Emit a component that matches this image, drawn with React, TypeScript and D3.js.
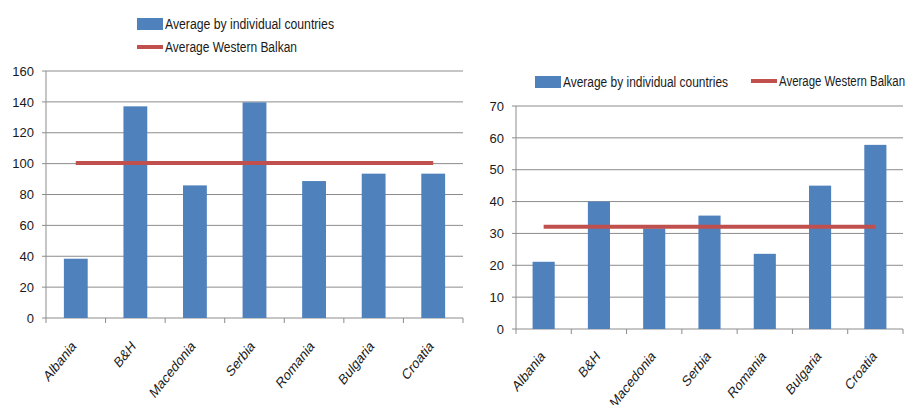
import React from "react";
import * as d3 from "d3";

// Countries on the category axis
const countries = ["Albania", "B&H", "Macedonia", "Serbia", "Romania", "Bulgaria", "Croatia"];

// Left panel: averages by country and the regional average
const leftValues = [38.4, 137.1, 85.9, 139.7, 88.7, 93.5, 93.5];
const leftAverage = 100.4;
const leftTicks = [0, 20, 40, 60, 80, 100, 120, 140, 160];

// Right panel: averages by country and the regional average
const rightValues = [21.1, 40.0, 31.6, 35.6, 23.6, 45.0, 57.8];
const rightAverage = 32.1;
const rightTicks = [0, 10, 20, 30, 40, 50, 60, 70];

const seriesBar = "Average by individual countries";
const seriesLine = "Average Western Balkan";

const BAR = "#4F81BD";
const LINE = "#C0504D";
const GRID = "#8C8C8C";
const TEXT = "#1a1a1a";
const FONT = "'Liberation Sans', Arial, sans-serif";

type PanelProps = {
  values: number[];
  average: number;
  ticks: number[];
  x0: number;
  x1: number;
  yTop: number;
  yBottom: number;
  labelDx: number;
  labelGap: number;
};

function Panel({ values, average, ticks, x0, x1, yTop, yBottom, labelDx, labelGap }: PanelProps) {
  const x = d3.scaleBand<string>().domain(countries).range([x0, x1]).padding(0);
  const y = d3
    .scaleLinear()
    .domain([0, ticks[ticks.length - 1]])
    .range([yBottom, yTop]);
  const step = x.step();
  const barW = step * 0.4;
  const first = x(countries[0])! + step / 2;
  const last = x(countries[countries.length - 1])! + step / 2;
  const linePath = d3.line<number>()([
    [first, y(average)],
    [last, y(average)],
  ] as any);
  const boundaries = d3.range(countries.length + 1).map((i) => x0 + i * step);

  return (
    <g>
      {ticks.map((t) => (
        <g key={t}>
          <line x1={x0 - 4} x2={x1} y1={y(t)} y2={y(t)} stroke={GRID} strokeWidth={1} />
          <text
            x={x0 - 12}
            y={y(t)}
            dy="0.36em"
            textAnchor="end"
            fontSize={13}
            fill={TEXT}
            fontFamily={FONT}
          >
            {t}
          </text>
        </g>
      ))}
      <line x1={x0} x2={x0} y1={yTop} y2={yBottom} stroke={GRID} strokeWidth={1} />
      {boundaries.map((b, i) => (
        <line key={i} x1={b} x2={b} y1={yBottom} y2={yBottom + 5} stroke={GRID} strokeWidth={1} />
      ))}
      {values.map((v, i) => {
        const cx = x(countries[i])! + step / 2;
        return (
          <rect
            key={countries[i]}
            x={cx - barW / 2}
            y={y(v)}
            width={barW}
            height={yBottom - y(v)}
            fill={BAR}
          />
        );
      })}
      <path d={linePath || ""} stroke={LINE} strokeWidth={4} fill="none" />
      {countries.map((c) => {
        const cx = x(c)! + step / 2 + labelDx;
        const cy = yBottom + labelGap;
        return (
          <text
            key={c}
            transform={`translate(${cx},${cy}) scale(0.8,1) rotate(-45)`}
            textAnchor="end"
            fontSize={15}
            fill={TEXT}
            fontFamily={FONT}
          >
            {c}
          </text>
        );
      })}
    </g>
  );
}

function LegendItem({
  x,
  y,
  kind,
  label,
  width,
}: {
  x: number;
  y: number;
  kind: "bar" | "line";
  label: string;
  width: number;
}) {
  return (
    <g>
      {kind === "bar" ? (
        <rect x={x} y={y - 6} width={26} height={12} fill={BAR} />
      ) : (
        <line x1={x} x2={x + 26} y1={y} y2={y} stroke={LINE} strokeWidth={4} />
      )}
      <text
        x={x + 28}
        y={y}
        dy="0.36em"
        fontSize={14}
        fill={TEXT}
        fontFamily={FONT}
        textLength={width}
        lengthAdjust="spacingAndGlyphs"
      >
        {label}
      </text>
    </g>
  );
}

export default function App() {
  return (
    <svg
      width={906}
      height={405}
      style={{ position: "absolute", left: 0, top: 0, background: "#fff" }}
    >
      <LegendItem x={137} y={24} kind="bar" label={seriesBar} width={169} />
      <LegendItem x={137} y={47} kind="line" label={seriesLine} width={132} />
      <Panel
        values={leftValues}
        average={leftAverage}
        ticks={leftTicks}
        x0={46}
        x1={463}
        yTop={71}
        yBottom={318}
        labelDx={1}
        labelGap={29}
      />
      <LegendItem x={535} y={82} kind="bar" label={seriesBar} width={165} />
      <LegendItem x={751} y={81} kind="line" label={seriesLine} width={126} />
      <Panel
        values={rightValues}
        average={rightAverage}
        ticks={rightTicks}
        x0={516}
        x1={903}
        yTop={106}
        yBottom={329}
        labelDx={2}
        labelGap={28}
      />
    </svg>
  );
}
